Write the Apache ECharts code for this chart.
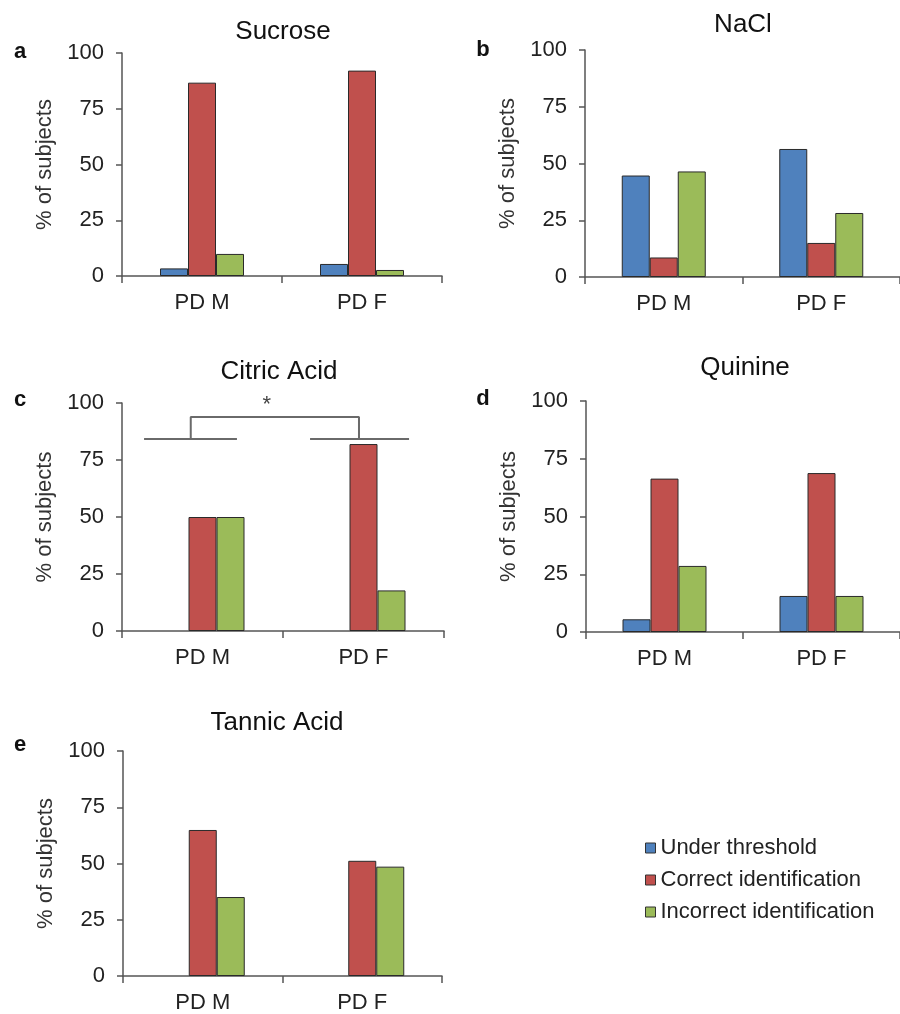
<!DOCTYPE html>
<html><head><meta charset="utf-8">
<script src="https://cdn.jsdelivr.net/npm/echarts@6/dist/echarts.min.js"></script>
<style>html,body{margin:0;padding:0;background:#fff}#c{width:900px;height:1014px}</style>
</head><body><div id="c"></div>
<script>
const categories = ['PD M', 'PD F'];
const seriesNames = ['Under threshold', 'Correct identification', 'Incorrect identification'];
const panelTitles = ['Sucrose', 'NaCl', 'Citric Acid', 'Quinine', 'Tannic Acid'];
const panelLetters = ['a', 'b', 'c', 'd', 'e'];
const yTicks = [0, 25, 50, 75, 100];
const yAxisName = '% of subjects';
// values per panel: [under threshold, correct, incorrect], each for [PD M, PD F]
const sucrose = [[3.4, 5.4], [86.7, 92.1], [9.9, 2.7]];
const nacl = [[44.7, 56.4], [8.6, 15.0], [46.5, 28.2]];
const citric = [[0, 0], [50, 82.0], [50, 17.8]];
const quinine = [[5.5, 15.6], [66.4, 68.8], [28.6, 15.6]];
const tannic = [[0, 0], [64.9, 51.2], [35.1, 48.6]];
// significance bracket for citric acid (x in category units 0..2, y in %)
const sigBaseLeft = [[0.137, 84.2], [0.714, 84.2]];
const sigBaseRight = [[1.168, 84.2], [1.783, 84.2]];
const sigBracket = [[0.427, 84.2], [0.427, 93.9], [1.472, 93.9], [1.472, 84.2]];
const sigStar = [0.9, 99];
const sigLabel = '*';

const panels = [sucrose, nacl, citric, quinine, tannic];
const colors = ['#4F81BD', '#C0504D', '#9BBB59'];
const FF = '"Liberation Sans", Arial, sans-serif';

const grids = [
  {left: 122, top: 53, width: 320, height: 223},
  {left: 585, top: 50, width: 320, height: 227},
  {left: 122, top: 403, width: 322, height: 228},
  {left: 586, top: 401, width: 321, height: 231},
  {left: 123, top: 751, width: 319, height: 227}
];
const titlePos = [[283, 32], [743, 25], [279, 372], [745, 368], [277, 723]];
const letterPos = [[20, 52], [483, 50], [20, 400], [483, 399], [20, 745]];

const axisColor = '#555';
const xAxes = grids.map((g, i) => ({
  type: 'category', gridIndex: i, data: categories,
  axisLine: {lineStyle: {color: axisColor, width: 1.5}},
  axisTick: {show: true, length: 7, lineStyle: {color: axisColor, width: 1.5}},
  axisLabel: {fontSize: 22, color: '#222', margin: 16, fontFamily: FF},
  splitLine: {show: false}
}));
xAxes.push({type: 'value', gridIndex: 2, min: 0, max: 2, show: false});

const yAxes = grids.map((g, i) => ({
  type: 'value', gridIndex: i, min: yTicks[0], max: yTicks[yTicks.length - 1],
  interval: yTicks[1] - yTicks[0],
  name: yAxisName, nameLocation: 'middle', nameGap: 66,
  nameTextStyle: {fontSize: 22, color: '#333', fontFamily: FF},
  axisLine: {show: true, lineStyle: {color: axisColor, width: 1.5}},
  axisTick: {show: true, length: 6, lineStyle: {color: axisColor, width: 1.5}},
  axisLabel: {fontSize: 22, color: '#222', margin: 18, fontFamily: FF},
  splitLine: {show: false}
}));

const series = [];
panels.forEach((p, i) => {
  p.forEach((vals, k) => {
    series.push({
      type: 'bar', name: seriesNames[k], xAxisIndex: i, yAxisIndex: i,
      data: vals.map(v => v === 0 ? {value: v, itemStyle: {borderWidth: 0}} : v),
      barWidth: 28, barGap: '0%',
      itemStyle: {color: colors[k], borderColor: '#2a2a2a', borderWidth: 1},
      silent: true
    });
  });
});
[sigBaseLeft, sigBaseRight, sigBracket].forEach(d => {
  series.push({
    type: 'line', xAxisIndex: 5, yAxisIndex: 2, data: d, symbol: 'none',
    lineStyle: {color: '#6a6a6a', width: 2}, silent: true, z: 5
  });
});

const graphic = [];
panelTitles.forEach((t, i) => {
  graphic.push({type: 'text', x: titlePos[i][0], y: titlePos[i][1],
    style: {text: t, font: '26px ' + FF, fill: '#111', textAlign: 'center', textVerticalAlign: 'middle'}});
  graphic.push({type: 'text', x: letterPos[i][0], y: letterPos[i][1],
    style: {text: panelLetters[i], font: 'bold 22px ' + FF, fill: '#111', textAlign: 'center', textVerticalAlign: 'middle'}});
});

const chart = echarts.init(document.getElementById('c'), null, {renderer: 'canvas'});
chart.setOption({
  animation: false,
  backgroundColor: '#fff',
  grid: grids,
  xAxis: xAxes,
  yAxis: yAxes,
  legend: {
    data: seriesNames, orient: 'vertical', left: 645, top: 837, padding: 0,
    itemWidth: 10, itemHeight: 10, itemGap: 10, icon: 'rect', selectedMode: false,
    textStyle: {fontSize: 22, color: '#222', fontFamily: FF, lineHeight: 20},
    itemStyle: {borderColor: '#333', borderWidth: 1}
  },
  series: series,
  graphic: graphic
});
const sp = chart.convertToPixel({xAxisIndex: 5, yAxisIndex: 2}, sigStar);
graphic.push({type: 'text', x: sp[0], y: sp[1],
  style: {text: sigLabel, font: '22px ' + FF, fill: '#444', textAlign: 'center', textVerticalAlign: 'middle'}});
chart.setOption({graphic: graphic});
</script></body></html>
